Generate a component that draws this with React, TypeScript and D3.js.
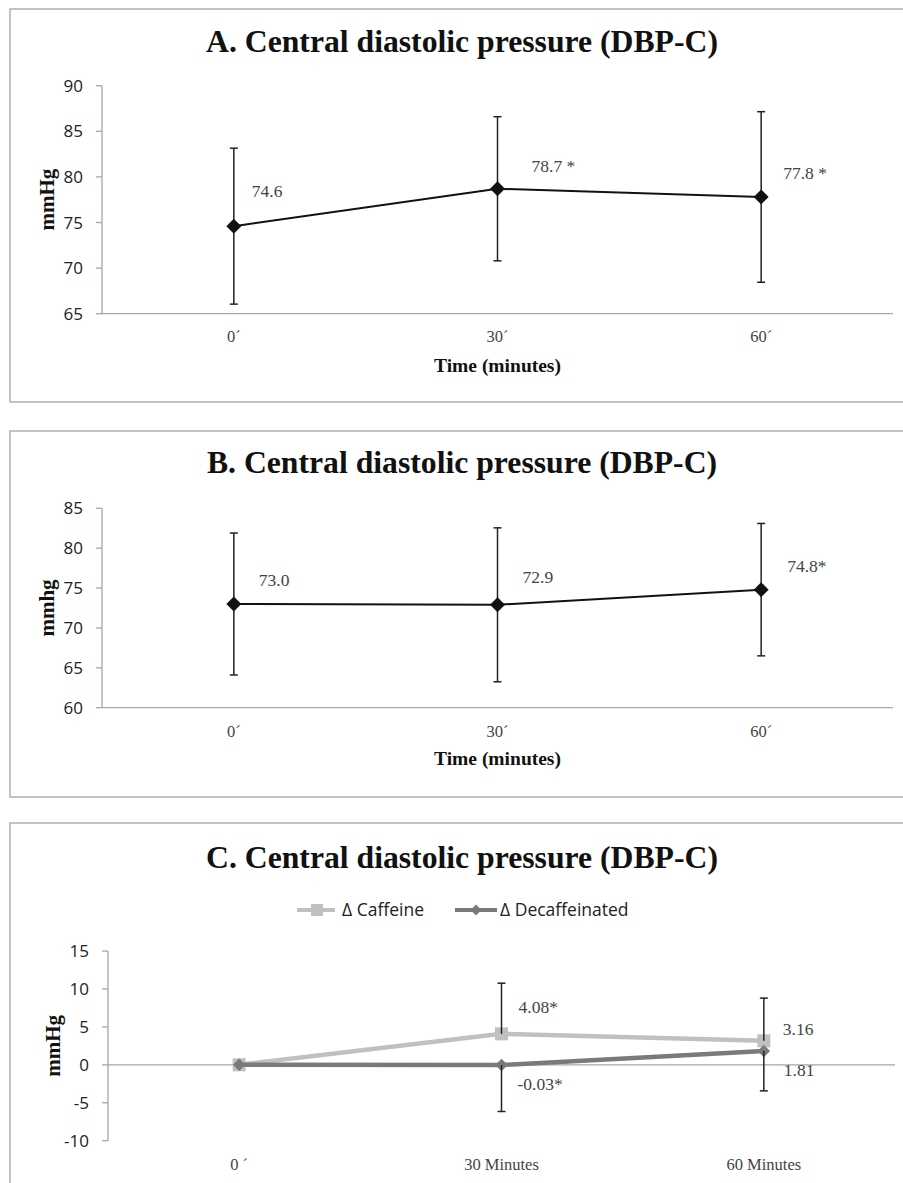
import * as d3 from "d3";

// Panel A / B: mean with SD bars
const timesAB = ["0´", "30´", "60´"];
const valuesA = [74.6, 78.7, 77.8];
const errorsA = [8.55, 7.9, 9.35];
const labelsA = ["74.6", "78.7 *", "77.8 *"];
const ticksA = [65, 70, 75, 80, 85, 90];

const valuesB = [73.0, 72.9, 74.8];
const errorsB = [8.9, 9.65, 8.3];
const labelsB = ["73.0", "72.9", "74.8*"];
const ticksB = [60, 65, 70, 75, 80, 85];

// Panel C: deltas
const timesC = ["0 ´", "30 Minutes", "60 Minutes"];
const caffeine = [0, 4.08, 3.16];
const caffeinePlus = [0, 6.68, 5.63];
const decaf = [0, -0.03, 1.81];
const decafMinus = [0, 6.12, 5.24];
const caffeineLabels = ["", "4.08*", "3.16"];
const decafLabels = ["", "-0.03*", "1.81"];
const ticksC = [-10, -5, 0, 5, 10, 15];

// label offsets (dx, dy) from the point
const offA = [[18, -29], [34, -17], [22, -18]];
const offB = [[25, -18], [25, -22], [26, -18]];
const offCaf = [[0, 0], [17, -21], [19, -6]];
const offDec = [[0, 0], [16, 25], [20, 25]];

const SERIF = "'Liberation Serif', 'DejaVu Serif', serif";
const SANS = "'Open Sans', 'Liberation Sans', sans-serif";
const AXIS = "#a6a6a6";
const FRAME = "#b0b0b0";

const diamond = (size: number) => d3.symbol(d3.symbolSquare, size)() as string;

type Geo = {
  top: number; left: number; right: number; bottom: number;
  frameTop: number; frameBottom: number; titleY: number;
};

function YAxis({ y, ticks, left, top, bottom, label }: any) {
  return (
    <g>
      <line x1={left} x2={left} y1={top} y2={bottom} stroke={AXIS} strokeWidth={1.3} />
      {ticks.map((t: number) => (
        <g key={t}>
          <line x1={left - 6} x2={left} y1={y(t)} y2={y(t)} stroke={AXIS} strokeWidth={1.3} />
          <text x={left - 19} y={y(t)} dy="0.36em" textAnchor="end" fontFamily={SANS} fontSize={17} fill="#222">
            {t}
          </text>
        </g>
      ))}
      <text
        transform={`translate(${left - 48},${(top + bottom) / 2}) rotate(-90)`}
        textAnchor="middle"
        fontFamily={SERIF}
        fontWeight="bold"
        fontSize={21}
        fill="#111"
      >
        {label}
      </text>
    </g>
  );
}

function Frame({ g, title }: { g: Geo; title: string }) {
  return (
    <g>
      <rect x={10} y={g.frameTop} width={900} height={g.frameBottom - g.frameTop} fill="white" stroke={FRAME} strokeWidth={1.5} />
      <text x={462} y={g.titleY} textAnchor="middle" fontFamily={SERIF} fontWeight="bold" fontSize={31.7} fill="#111">
        {title}
      </text>
    </g>
  );
}

function MeanPanel({ g, title, values, errors, labels, ticks, offs, ylabel, xLabelY, axisTitleY }: any) {
  const x = d3.scaleBand<string>().domain(timesAB).range([g.left, g.right]);
  const y = d3.scaleLinear().domain([ticks[0], ticks[ticks.length - 1]]).range([g.bottom, g.top]);
  const cx = (i: number) => (x(timesAB[i]) as number) + x.bandwidth() / 2;
  const line = d3.line<number>().x((_, i) => cx(i)).y((d) => y(d));
  return (
    <g>
      <Frame g={g} title={title} />
      <YAxis y={y} ticks={ticks} left={g.left} top={g.top} bottom={g.bottom} label={ylabel} />
      <line x1={g.left} x2={g.right} y1={g.bottom} y2={g.bottom} stroke={AXIS} strokeWidth={1.3} />
      {timesAB.map((t, i) => (
        <text key={t} x={cx(i)} y={xLabelY} textAnchor="middle" fontFamily={SERIF} fontSize={16.5} fill="#444">
          {t}
        </text>
      ))}
      <text x={(g.left + g.right) / 2} y={axisTitleY} textAnchor="middle" fontFamily={SERIF} fontWeight="bold" fontSize={19.5} fill="#111">
        Time (minutes)
      </text>
      <path d={line(values) as string} fill="none" stroke="#111" strokeWidth={2} />
      {values.map((v: number, i: number) => (
        <g key={i}>
          <line x1={cx(i)} x2={cx(i)} y1={y(v + errors[i])} y2={y(v - errors[i])} stroke="#222" strokeWidth={1.5} />
          <line x1={cx(i) - 4} x2={cx(i) + 4} y1={y(v + errors[i])} y2={y(v + errors[i])} stroke="#222" strokeWidth={1.5} />
          <line x1={cx(i) - 4} x2={cx(i) + 4} y1={y(v - errors[i])} y2={y(v - errors[i])} stroke="#222" strokeWidth={1.5} />
          <path d={diamond(112)} transform={`translate(${cx(i)},${y(v)}) rotate(45)`} fill="#111" />
          <text x={cx(i) + offs[i][0]} y={y(v) + offs[i][1]} fontFamily={SERIF} fontSize={17.5} fill="#444">
            {labels[i]}
          </text>
        </g>
      ))}
    </g>
  );
}

function DeltaPanel() {
  const g: Geo = { top: 951, left: 108, right: 895, bottom: 1140.7, frameTop: 823, frameBottom: 1200, titleY: 868 };
  const x = d3.scaleBand<string>().domain(timesC).range([g.left, g.right]);
  const y = d3.scaleLinear().domain([ticksC[0], ticksC[ticksC.length - 1]]).range([g.bottom, g.top]);
  const cx = (i: number) => (x(timesC[i]) as number) + x.bandwidth() / 2;
  const line = d3.line<number>().x((_, i) => cx(i)).y((d) => y(d));
  const cafColor = "#c0c0c0";
  const decColor = "#7a7a7a";
  const legendY = 910;
  return (
    <g>
      <Frame g={g} title="C. Central diastolic pressure (DBP-C)" />
      {/* legend */}
      <line x1={297} x2={335} y1={legendY} y2={legendY} stroke={cafColor} strokeWidth={4} />
      <rect x={311} y={legendY - 6} width={12} height={12} fill={cafColor} />
      <text x={342} y={legendY} dy="0.36em" fontFamily={SANS} fontSize={17.5} fill="#222">Δ Caffeine</text>
      <line x1={455} x2={497} y1={legendY} y2={legendY} stroke={decColor} strokeWidth={4} />
      <path d={diamond(60)} transform={`translate(476,${legendY}) rotate(45)`} fill={decColor} />
      <text x={500} y={legendY} dy="0.36em" fontFamily={SANS} fontSize={17.5} fill="#222">Δ Decaffeinated</text>

      <YAxis y={y} ticks={ticksC} left={g.left} top={g.top} bottom={g.bottom} label="mmHg" />
      <line x1={g.left} x2={g.right} y1={y(0)} y2={y(0)} stroke={AXIS} strokeWidth={1.3} />
      {timesC.map((t, i) => (
        <text key={t} x={cx(i)} y={1170} textAnchor="middle" fontFamily={SERIF} fontSize={16.5} fill="#444">
          {t}
        </text>
      ))}
      <path d={line(caffeine) as string} fill="none" stroke={cafColor} strokeWidth={4.5} />
      {caffeine.map((v, i) => (
        <rect key={"c" + i} x={cx(i) - 6.5} y={y(v) - 6.5} width={13} height={13} fill={cafColor} />
      ))}
      <path d={line(decaf) as string} fill="none" stroke={decColor} strokeWidth={4.5} />
      {decaf.map((v, i) => (
        <path key={"d" + i} d={diamond(78)} transform={`translate(${cx(i)},${y(v)}) rotate(45)`} fill={decColor} />
      ))}
      {caffeine.map((v, i) =>
        caffeinePlus[i] > 0 ? (
          <g key={"ce" + i}>
            <line x1={cx(i)} x2={cx(i)} y1={y(v)} y2={y(v + caffeinePlus[i])} stroke="#222" strokeWidth={1.5} />
            <line x1={cx(i) - 4} x2={cx(i) + 4} y1={y(v + caffeinePlus[i])} y2={y(v + caffeinePlus[i])} stroke="#222" strokeWidth={1.5} />
          </g>
        ) : null
      )}
      {decaf.map((v, i) =>
        decafMinus[i] > 0 ? (
          <g key={"de" + i}>
            <line x1={cx(i)} x2={cx(i)} y1={y(v)} y2={y(v - decafMinus[i])} stroke="#222" strokeWidth={1.5} />
            <line x1={cx(i) - 4} x2={cx(i) + 4} y1={y(v - decafMinus[i])} y2={y(v - decafMinus[i])} stroke="#222" strokeWidth={1.5} />
          </g>
        ) : null
      )}
      {caffeine.map((v, i) => (
        <text key={"cl" + i} x={cx(i) + offCaf[i][0]} y={y(v) + offCaf[i][1]} fontFamily={SERIF} fontSize={17.5} fill="#444">
          {caffeineLabels[i]}
        </text>
      ))}
      {decaf.map((v, i) => (
        <text key={"dl" + i} x={cx(i) + offDec[i][0]} y={y(v) + offDec[i][1]} fontFamily={SERIF} fontSize={17.5} fill="#444">
          {decafLabels[i]}
        </text>
      ))}
    </g>
  );
}

export default function App() {
  const gA: Geo = { top: 85.7, left: 102, right: 893, bottom: 313.7, frameTop: 9, frameBottom: 402, titleY: 52 };
  const gB: Geo = { top: 508.3, left: 102, right: 893, bottom: 707.7, frameTop: 431, frameBottom: 797, titleY: 473 };
  return (
    <svg width={903} height={1183} style={{ position: "absolute", left: 0, top: 0, background: "white" }}>
      <rect width={903} height={1183} fill="white" />
      <MeanPanel g={gA} title="A. Central diastolic pressure (DBP-C)" values={valuesA} errors={errorsA} labels={labelsA}
        ticks={ticksA} offs={offA} ylabel="mmHg" xLabelY={342} axisTitleY={372} />
      <MeanPanel g={gB} title="B. Central diastolic pressure (DBP-C)" values={valuesB} errors={errorsB} labels={labelsB}
        ticks={ticksB} offs={offB} ylabel="mmhg" xLabelY={737} axisTitleY={765} />
      <DeltaPanel />
    </svg>
  );
}
